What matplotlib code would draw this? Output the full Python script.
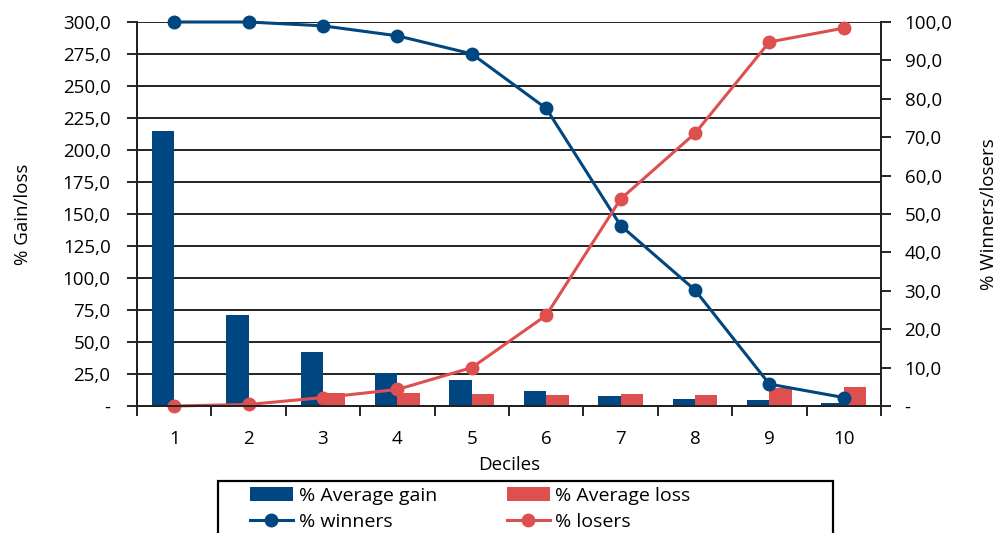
import numpy as np
import matplotlib
matplotlib.use('Agg')
import matplotlib.pyplot as plt
from matplotlib.ticker import FuncFormatter, MultipleLocator
from matplotlib.patches import Rectangle

plt.rcParams['font.family'] = ['Open Sans', 'DejaVu Sans']

deciles = [1, 2, 3, 4, 5, 6, 7, 8, 9, 10]
avg_gain = [215, 71, 42, 26, 20, 12, 8, 5.5, 4.7, 2]
avg_loss = [0, 0, 10, 10, 9.4, 8.6, 9.4, 8.6, 13.8, 15]
winners = [100, 100, 99.0, 96.4, 91.7, 77.5, 47.0, 30.2, 5.7, 2.2]
losers = [0, 0.4, 2.2, 4.3, 10.0, 23.6, 53.9, 71.0, 94.8, 98.4]

blue = '#004680'
red = '#DE5050'
fs = 13.5

def fmt(v, pos):
    if abs(v) < 1e-9:
        return '-'
    return ('%.1f' % v).replace('.', ',')

fig = plt.figure(figsize=(9.98, 5.33), dpi=100)
ax = fig.add_axes([137/998, 1-406/533, 744/998, 384/533])
ax2 = ax.twinx()

x = np.array(deciles)
w = 0.3
b1 = ax.bar(x - w/2, avg_gain, width=w, color=blue, zorder=3)
b2 = ax.bar(x + w/2, avg_loss, width=w, color=red, zorder=3)

l1, = ax2.plot(x, winners, color=blue, lw=2.2, marker='o', ms=9, clip_on=False)
l2, = ax2.plot(x, losers, color=red, lw=2.2, marker='o', ms=9, clip_on=False)

ax.set_xlim(0.5, 10.5)
ax.set_ylim(0, 300)
ax2.set_ylim(0, 100)
ax.yaxis.set_major_locator(MultipleLocator(25))
ax2.yaxis.set_major_locator(MultipleLocator(10))
ax.yaxis.set_major_formatter(FuncFormatter(fmt))
ax2.yaxis.set_major_formatter(FuncFormatter(fmt))

ax.grid(axis='y', color='#222222', lw=1.4, zorder=0)
ax.set_axisbelow(True)

# category ticks between groups
ax.set_xticks(np.arange(0.5, 11, 1))
ax.set_xticklabels([])
ax.set_xticks(x, minor=True)
ax.set_xticklabels([str(d) for d in deciles], minor=True, fontsize=fs)
ax.tick_params(axis='x', which='minor', length=0, pad=17)
ax.tick_params(axis='x', which='major', length=7, width=1.2)
ax.tick_params(axis='y', labelsize=fs, length=7, width=1.2, pad=12)
ax2.tick_params(axis='y', labelsize=fs, length=7, width=1.2, pad=10)

for a in (ax, ax2):
    a.spines['top'].set_visible(False)
    for s in ('left', 'right', 'bottom'):
        a.spines[s].set_linewidth(1.4)
        a.spines[s].set_color('#222222')

ax.set_xlabel('Deciles', fontsize=fs, labelpad=6)
ax.set_ylabel('% Gain/loss', fontsize=fs, labelpad=22)
ax2.set_ylabel('% Winners/losers', fontsize=fs, labelpad=20, rotation=90)

leg = fig.legend([b1, l1, b2, l2],
                 ['% Average gain', '% winners', '% Average loss', '% losers'],
                 ncol=2, loc='upper left',
                 bbox_to_anchor=(250/998, 1-487/533),
                 fontsize=14, frameon=False, handlelength=2.2,
                 borderpad=0, borderaxespad=0, labelspacing=0.4,
                 handletextpad=0.3, columnspacing=3.6)

fig.add_artist(Rectangle((218/998, -0.1), 615/998, 0.1 + (533-481)/533,
                         transform=fig.transFigure, fill=False,
                         lw=1.6, ec='black'))

fig.savefig('out.png', dpi=100)
